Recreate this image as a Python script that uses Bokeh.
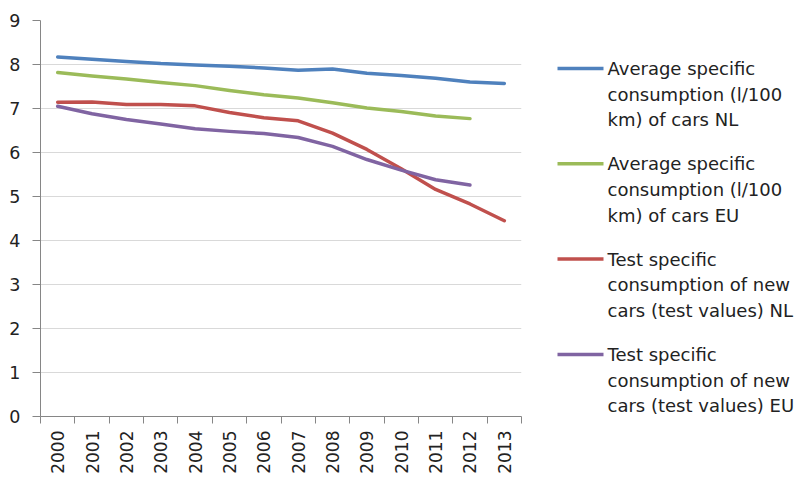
import math
from bokeh.plotting import figure
from bokeh.layouts import row
from bokeh.models import Range1d, FixedTicker, ColumnDataSource
from bokeh.core.properties import value
from bokeh.embed import file_html
from bokeh.resources import INLINE

years = [str(y) for y in range(2000, 2014)]
avg_nl = [8.17, 8.12, 8.07, 8.02, 7.99, 7.96, 7.92, 7.87, 7.90, 7.80, 7.75, 7.69, 7.60, 7.57]
avg_eu = [7.82, 7.74, 7.67, 7.59, 7.52, 7.41, 7.31, 7.24, 7.13, 7.01, 6.93, 6.83, 6.77]
test_nl = [7.14, 7.15, 7.09, 7.09, 7.06, 6.91, 6.79, 6.72, 6.44, 6.07, 5.63, 5.16, 4.83, 4.45]
test_eu = [7.05, 6.88, 6.75, 6.65, 6.54, 6.48, 6.43, 6.34, 6.14, 5.84, 5.60, 5.38, 5.26]
y_ticks = list(range(0, 10))

names = [
    "Average specific\nconsumption (l/100\nkm) of cars NL",
    "Average specific\nconsumption (l/100\nkm) of cars EU",
    "Test specific\nconsumption of new\ncars (test values) NL",
    "Test specific\nconsumption of new\ncars (test values) EU",
]
series = [avg_nl, avg_eu, test_nl, test_eu]
colors = ["#4F81BD", "#9BBB59", "#C0504D", "#8064A2"]

FONT = "DejaVu Sans"
TXT = "#222222"

W, H = 799, 479
n = len(years)
FW, FH = 481, 396
TOP, LEFT, RIGHT = 20, 40, 4
BOTTOM = H - TOP - FH
p = figure(frame_width=FW, frame_height=FH, output_backend="svg", toolbar_location=None,
           x_range=Range1d(0, n), y_range=Range1d(0, 9),
           min_border_left=LEFT, min_border_top=TOP, min_border_bottom=BOTTOM,
           min_border_right=RIGHT)
p.outline_line_color = None

centers = [i + 0.5 for i in range(n)]
bounds = [float(i) for i in range(n + 1)]

p.xaxis.ticker = FixedTicker(ticks=centers, minor_ticks=bounds)
p.xaxis.major_label_overrides = {c: y for c, y in zip(centers, years)}
p.xaxis.major_tick_out = 0
p.xaxis.major_tick_in = 0
p.xaxis.minor_tick_out = 7
p.xaxis.minor_tick_in = 0
p.xaxis.minor_tick_line_color = "#868686"
p.xaxis.axis_line_color = "#868686"
p.xaxis.major_label_orientation = math.pi / 2
p.xaxis.major_label_standoff = 7
p.xaxis.major_label_text_font = FONT
p.xaxis.major_label_text_font_size = "17px"
p.xaxis.major_label_text_color = TXT

p.yaxis.ticker = FixedTicker(ticks=y_ticks)
p.yaxis.major_tick_out = 8
p.yaxis.major_tick_in = 0
p.yaxis.minor_tick_line_color = None
p.yaxis.major_tick_line_color = "#868686"
p.yaxis.axis_line_color = "#868686"
p.yaxis.major_label_standoff = 12
p.yaxis.major_label_text_font = FONT
p.yaxis.major_label_text_font_size = "17.5px"
p.yaxis.major_label_text_color = TXT

p.xgrid.grid_line_color = None
p.ygrid.ticker = FixedTicker(ticks=y_ticks[1:])
p.ygrid.grid_line_color = "#D9D9D9"
p.ygrid.grid_line_width = 1.2

for vals, col in zip(series, colors):
    p.line(centers[:len(vals)], vals, line_color=col, line_width=3.5,
           line_join="round", line_cap="round")

# ---- legend panel: same vertical frame as the chart, page-pixel coordinates ----
X0 = LEFT + FW + RIGHT
LW = W - X0
q = figure(frame_width=LW, frame_height=FH, output_backend="svg", toolbar_location=None,
           x_axis_location=None, y_axis_location=None,
           x_range=Range1d(X0, W), y_range=Range1d(TOP + FH, TOP),
           min_border_left=0, min_border_right=0,
           min_border_top=TOP, min_border_bottom=BOTTOM)
q.outline_line_color = None
q.grid.grid_line_color = None

ROW = 25.6          # line pitch of the legend text
ITEM_PITCH = 95.3   # distance between legend entries
SW_X0, SW_X1 = 557, 603
TEXT_X = 607
SW_Y0 = 68          # swatch y of first entry

sw = dict(x0=[], x1=[], y=[], color=[])
tx = dict(x=[], y=[], text=[])
for k, (name, col) in enumerate(zip(names, colors)):
    ys = SW_Y0 + k * ITEM_PITCH
    sw["x0"].append(SW_X0); sw["x1"].append(SW_X1); sw["y"].append(ys); sw["color"].append(col)
    for j, t in enumerate(name.split("\n")):
        tx["x"].append(TEXT_X)
        tx["y"].append(ys + j * ROW)
        tx["text"].append(t)

q.segment(x0="x0", y0="y", x1="x1", y1="y", line_color="color", line_width=3.5,
          source=ColumnDataSource(sw))
q.text(x="x", y="y", text="text", source=ColumnDataSource(tx),
       text_font=value(FONT), text_font_size="18px", text_color=TXT,
       text_baseline="middle", text_align="left")

layout = row(p, q)
open("out.html", "w").write(file_html(layout, INLINE))
